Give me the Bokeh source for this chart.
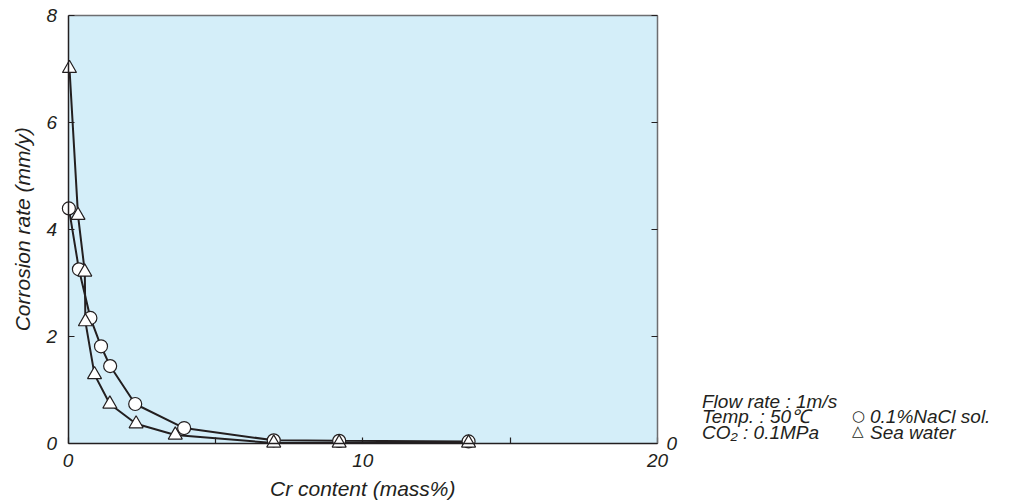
import math
from bokeh.plotting import figure
from bokeh.models import Range1d, LinearAxis, FixedTicker, Label
from bokeh.embed import file_html
from bokeh.resources import INLINE

# Data
nacl_x = [0.03, 0.37, 0.76, 1.12, 1.43, 2.28, 3.94, 6.98, 9.2, 13.59]
nacl_y = [4.39, 3.25, 2.34, 1.81, 1.44, 0.73, 0.28, 0.05, 0.04, 0.03]
sea_x = [0.05, 0.34, 0.57, 0.59, 0.90, 1.42, 2.31, 3.64, 6.98, 9.2, 13.59]
sea_y = [7.01, 4.26, 3.20, 2.27, 1.28, 0.73, 0.36, 0.15, 0.0, 0.0, 0.0]
x_ticks = [0, 5, 10, 15, 20]
x_tick_labels = {5: "", 15: ""}
y_ticks = [0, 2, 4, 6, 8]
right_tick_labels = {2: "", 4: "", 6: "", 8: ""}
x_title = "Cr content (mass%)"
y_title = "Corrosion rate (mm/y)"
note_lines = ["Flow rate : 1m/s", "Temp. : 50\u2103", "CO\u2082 : 0.1MPa"]
legend_symbols = ["\u25cb", "\u25b3"]
legend_lines = ["0.1%NaCl sol.", "Sea water"]

X_MAX, Y_MAX = 20, 8
FONT = "Liberation Sans"
INK = "#231f20"
EDGE = "#6d6e71"
W, H = 1012, 504

# pixel layout of the panel
PX0, PX1 = 67.5, 657.0     # x = 0 and x = 20
PY0, PY1 = 442.5, 15.0     # y = 0 and y = 8
sx = (PX1 - PX0) / X_MAX
sy = (PY0 - PY1) / Y_MAX


def dx(px):
    return (px - PX0) / sx


def dy(py):
    return (PY0 - py) / sy


p = figure(width=W, height=H, output_backend="svg", toolbar_location=None,
           x_range=Range1d(dx(0), dx(W)), y_range=Range1d(dy(H), dy(0)),
           x_axis_location=None, y_axis_location=None)
p.min_border_left = 0
p.min_border_right = 0
p.min_border_top = 0
p.min_border_bottom = 0
p.background_fill_color = "white"
p.border_fill_color = "white"
p.outline_line_color = None
p.grid.visible = False

# plot panel background
p.quad(left=[0], right=[X_MAX], bottom=[0], top=[Y_MAX],
       fill_color="#d4eef9", line_color=None)


def style(ax, color=INK):
    ax.major_tick_in = 6
    ax.major_tick_out = 0
    ax.minor_tick_line_color = None
    ax.axis_line_color = color
    ax.axis_line_width = 1.5
    ax.major_tick_line_color = INK
    ax.major_tick_line_width = 1.2
    ax.major_label_text_font = FONT
    ax.major_label_text_font_style = "italic"
    ax.major_label_text_font_size = "19px"
    ax.major_label_text_color = INK


xa = LinearAxis(ticker=FixedTicker(ticks=x_ticks), major_label_overrides=x_tick_labels,
                fixed_location=0, bounds=(0, X_MAX))
style(xa)
xa.major_label_standoff = 11
ya = LinearAxis(ticker=FixedTicker(ticks=y_ticks), fixed_location=0, bounds=(0, Y_MAX))
style(ya)
ya.major_label_standoff = 11
ra = LinearAxis(ticker=FixedTicker(ticks=y_ticks), major_label_overrides=right_tick_labels,
                fixed_location=X_MAX, bounds=(0, Y_MAX))
style(ra, EDGE)
ra.major_label_standoff = 9
ta = LinearAxis(ticker=FixedTicker(ticks=[]), fixed_location=Y_MAX, bounds=(0, X_MAX))
style(ta, EDGE)
ta.major_label_text_font_size = "0px"
p.add_layout(xa, "below")
p.add_layout(ya, "left")
p.add_layout(ra, "right")
p.add_layout(ta, "above")

p.line(nacl_x, nacl_y, line_color=INK, line_width=2)
p.line(sea_x, sea_y, line_color=INK, line_width=2)
p.scatter(nacl_x, nacl_y, marker="circle", size=13, fill_color="white",
          line_color=INK, line_width=1.2)
p.scatter(sea_x, sea_y, marker="triangle", size=14, fill_color="white",
          line_color=INK, line_width=1.2)

# axis titles
p.add_layout(Label(x=X_MAX / 2, y=dy(488), text=x_title, text_font=FONT,
                   text_font_style="italic", text_font_size="21px", text_color=INK,
                   text_align="center", text_baseline="alphabetic"))
p.add_layout(Label(x=dx(22), y=Y_MAX / 2, text=y_title, text_font=FONT,
                   text_font_style="italic", text_font_size="21px", text_color=INK,
                   text_align="center", text_baseline="middle", angle=math.pi / 2))

# notes to the right of the panel
baselines = [400.5, 416.0, 431.5]
for i, t in enumerate(note_lines):
    p.add_layout(Label(x=dx(701.5), y=dy(baselines[i]), text=t, text_font=FONT,
                       text_font_style="italic", text_font_size="19px",
                       text_color=INK, text_baseline="alphabetic"))
for i, t in enumerate(legend_lines):
    p.add_layout(Label(x=dx(851.5), y=dy(baselines[i + 1] - 1), text=legend_symbols[i],
                       text_font="DejaVu Sans", text_font_size="15px",
                       text_color=INK, text_baseline="alphabetic"))
    p.add_layout(Label(x=dx(869.5), y=dy(baselines[i + 1]), text=t, text_font=FONT,
                       text_font_style="italic", text_font_size="19px",
                       text_color=INK, text_baseline="alphabetic"))

open("out.html", "w").write(file_html(p, INLINE))
